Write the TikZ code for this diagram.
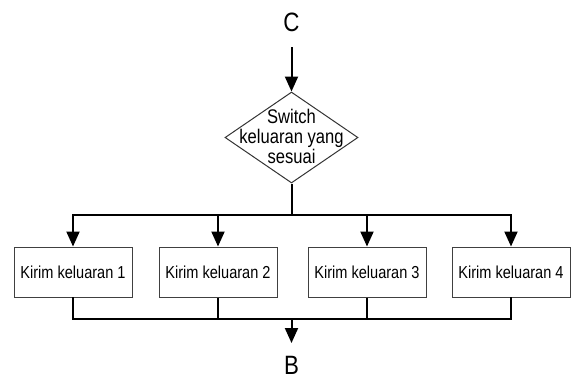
\documentclass[tikz,border=0pt]{standalone}
\usepackage{fontspec}
\setmainfont[FakeStretch=0.84]{Liberation Sans}
\usetikzlibrary{shapes.geometric,arrows.meta}

\begin{document}
\begin{tikzpicture}[x=0.75pt,y=-0.75pt,
  conn/.style={line width=1.5pt},
  arr/.style={conn,-{Triangle[width=9.75pt,length=11.25pt]}},
  term/.style={inner sep=0pt,font=\fontsize{19.9}{22}\selectfont},
  outbox/.style={draw=black!75,line width=0.75pt,minimum width=88.5pt,
    minimum height=37.5pt,inner sep=0pt,font=\fontsize{13}{15}\selectfont},
  decision/.style={diamond,draw=black!80,line width=0.75pt,minimum width=99.75pt,
    minimum height=68.25pt,inner sep=0pt},
  dtext/.style={align=center,inner sep=0pt,font=\fontsize{14.8}{15}\selectfont}
]
\useasboundingbox (0,0) rectangle (571,380);

% start connector and decision
\node[term] (c) at (291.5,22.2) {C};
\node[decision] (sw) at (291.5,137.5) {};
\node[dtext] (swt) at (291.5,136.3) {Switch\\keluaran yang\\sesuai};
\coordinate (cs) at (291.5,47);
\draw[arr] (cs) -- (sw.north);

% output steps
\node[outbox] (k1) at (73,272) {Kirim keluaran 1};
\node[outbox] (k2) at (218,272) {Kirim keluaran 2};
\node[outbox] (k3) at (367,272) {Kirim keluaran 3};
\node[outbox] (k4) at (511,272) {Kirim keluaran 4};

% fan out
\coordinate (split) at (291.5,215);
\draw[conn] (sw.south) -- (split);
\draw[conn,line cap=rect] (k1 |- split) -- (k4 |- split);
\foreach \k in {k1,k2,k3,k4}
  \draw[arr] (\k |- split) -- (\k.north);

% merge and end connector
\coordinate (join) at (291.5,319);
\coordinate (btip) at (291.5,343);
\node[term] (b) at (291.5,365.5) {B};
\draw[conn,line cap=rect] (k1.south) -- (k1 |- join) -- (k4 |- join) -- (k4.south);
\draw[conn] (k2.south) -- (k2 |- join);
\draw[conn] (k3.south) -- (k3 |- join);
\draw[arr] (join) -- (btip);
\end{tikzpicture}
\end{document}
